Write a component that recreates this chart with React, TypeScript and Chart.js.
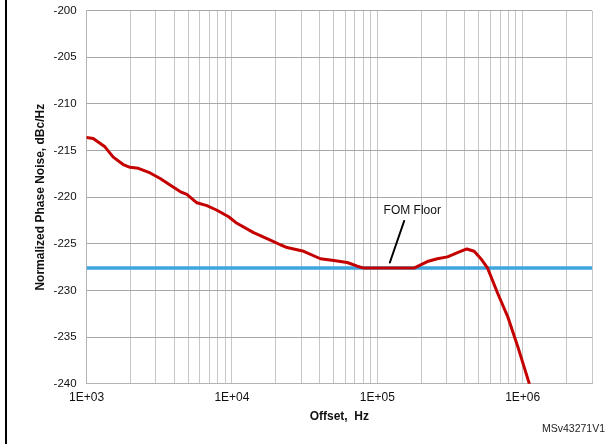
import React, { useEffect, useRef } from 'react';
import { Chart, registerables } from 'chart.js';

Chart.register(...registerables);

// ---- Data ----
const offsetHz = [
  1000, 1110, 1337, 1525, 1786, 1990, 2270, 2735, 3207, 3752, 4399, 4894, 5738, 6727, 7886, 9485,
  10820, 14090, 18370, 21530, 23940, 31180, 40620, 50200, 62100, 72800, 80900, 178700, 221000,
  259000, 304000, 356000, 413000, 464000, 516000, 574000, 673000, 789000, 925000, 1111000,
];
const phaseNoise = [
  -213.6, -213.7, -214.6, -215.7, -216.5, -216.8, -216.9, -217.4, -218.0, -218.7, -219.4, -219.7,
  -220.6, -220.9, -221.4, -222.1, -222.8, -223.8, -224.6, -225.1, -225.4, -225.8, -226.6, -226.8,
  -227.0, -227.4, -227.6, -227.6, -226.9, -226.6, -226.4, -225.95, -225.55, -225.8, -226.6, -227.6,
  -230.3, -232.8, -236.0, -240.0,
];
const fomFloorX = [1000, 3000000];
const fomFloorY = [-227.6, -227.6];

const xMin = 1000;
const xMax = 3000000;
const yMin = -240;
const yMax = -200;
const yStep = 5;

const xMajorTicks = [1000, 10000, 100000, 1000000];
const xTickLabels = ['1E+03', '1E+04', '1E+05', '1E+06'];
const xMinorMultipliers = [2, 3, 4, 5, 6, 7, 8, 9];

const annotationText = 'FOM Floor';
const annotationTextPos = [174000, -221.45];
const annotationPointerFrom = [153000, -222.55];
const annotationPointerTo = [122000, -227.0];

const xTitle = 'Offset,  Hz';
const yTitle = 'Normalized Phase Noise, dBc/Hz';
const footnote = 'MSv43271V1';

const FONT = 'Arial, "Liberation Sans", sans-serif';

function buildGridTicks(): number[] {
  const vals: number[] = [];
  for (const m of xMajorTicks) {
    vals.push(m);
    for (const k of xMinorMultipliers) {
      const v = m * k;
      if (v <= xMax) vals.push(v);
    }
  }
  return vals.sort((a, b) => a - b);
}

const extrasPlugin = {
  id: 'extras',
  afterDatasetsDraw(chart: any) {
    const { ctx, scales } = chart;
    const x = scales.x;
    const y = scales.y;
    ctx.save();
    ctx.strokeStyle = '#000';
    ctx.lineWidth = 2;
    ctx.lineCap = 'round';
    ctx.beginPath();
    ctx.moveTo(x.getPixelForValue(annotationPointerFrom[0]), y.getPixelForValue(annotationPointerFrom[1]));
    ctx.lineTo(x.getPixelForValue(annotationPointerTo[0]), y.getPixelForValue(annotationPointerTo[1]));
    ctx.stroke();
    ctx.fillStyle = '#111';
    ctx.font = `12px ${FONT}`;
    ctx.textAlign = 'center';
    ctx.textBaseline = 'middle';
    ctx.fillText(annotationText, x.getPixelForValue(annotationTextPos[0]), y.getPixelForValue(annotationTextPos[1]));
    ctx.restore();
  },
  afterDraw(chart: any) {
    const { ctx } = chart;
    ctx.save();
    ctx.fillStyle = '#000';
    ctx.fillRect(5, 0, 2, chart.height);
    ctx.fillStyle = '#222';
    ctx.font = `10.5px ${FONT}`;
    ctx.textAlign = 'right';
    ctx.textBaseline = 'middle';
    ctx.fillText(footnote, 605, 429);
    ctx.restore();
  },
};

export default function App() {
  const canvasRef = useRef<HTMLCanvasElement | null>(null);

  useEffect(() => {
    const canvas = canvasRef.current;
    if (!canvas) return;
    const gridTicks = buildGridTicks();
    const chart = new Chart(canvas, {
      type: 'line',
      data: {
        datasets: [
          {
            label: 'Normalized phase noise',
            data: offsetHz.map((f, i) => ({ x: f, y: phaseNoise[i] })),
            borderColor: '#c40000',
            borderWidth: 3,
            pointRadius: 0,
            tension: 0,
            borderJoinStyle: 'round',
            borderCapStyle: 'round',
          },
          {
            label: 'FOM floor',
            data: fomFloorX.map((f, i) => ({ x: f, y: fomFloorY[i] })),
            borderColor: '#3ea6dc',
            borderWidth: 3.5,
            pointRadius: 0,
            tension: 0,
          },
        ],
      },
      options: {
        animation: false,
        responsive: false,
        maintainAspectRatio: false,
        devicePixelRatio: 1,
        layout: { padding: { left: 0, top: 10.7, right: 21, bottom: 0 } },
        plugins: {
          legend: { display: false },
          tooltip: { enabled: false },
        },
        scales: {
          x: {
            type: 'logarithmic',
            min: xMin,
            max: xMax,
            afterBuildTicks: (scale: any) => {
              scale.ticks = gridTicks.map((v) => ({ value: v }));
            },
            afterFit: (scale: any) => {
              scale.height = 60.3;
            },
            grid: { color: '#c6c6c6', lineWidth: 1, drawTicks: false },
            border: { display: true, color: '#b4b4b4', width: 1 },
            ticks: {
              autoSkip: false,
              maxRotation: 0,
              minRotation: 0,
              padding: 7,
              color: '#111',
              font: { family: FONT, size: 12 },
              callback: (val: any) => {
                const i = xMajorTicks.indexOf(Number(val));
                return i >= 0 ? xTickLabels[i] : '';
              },
            },
            title: {
              display: true,
              text: xTitle,
              color: '#111',
              font: { family: FONT, size: 12, weight: 'bold' },
              padding: { top: 0, bottom: 20 },
            },
          },
          y: {
            type: 'linear',
            min: yMin,
            max: yMax,
            afterFit: (scale: any) => {
              scale.width = 86.6;
            },
            grid: {
              color: '#a8a8a8',
              lineWidth: 1,
              drawTicks: true,
              tickLength: 7,
              tickColor: 'rgba(0,0,0,0)',
            },
            border: { display: true, color: '#b4b4b4', width: 1 },
            ticks: {
              stepSize: yStep,
              padding: 3,
              color: '#111',
              font: { family: FONT, size: 11.5 },
            },
            title: {
              display: true,
              text: yTitle,
              color: '#111',
              font: { family: FONT, size: 12, weight: 'bold' },
              padding: { top: 33, bottom: 0 },
            },
          },
        },
      },
      plugins: [extrasPlugin],
    } as any);
    return () => chart.destroy();
  }, []);

  return (
    <div style={{ position: 'fixed', left: 0, top: 0, width: 613, height: 444, background: '#fff' }}>
      <canvas ref={canvasRef} width={613} height={444} style={{ width: 613, height: 444, display: 'block' }} />
    </div>
  );
}
